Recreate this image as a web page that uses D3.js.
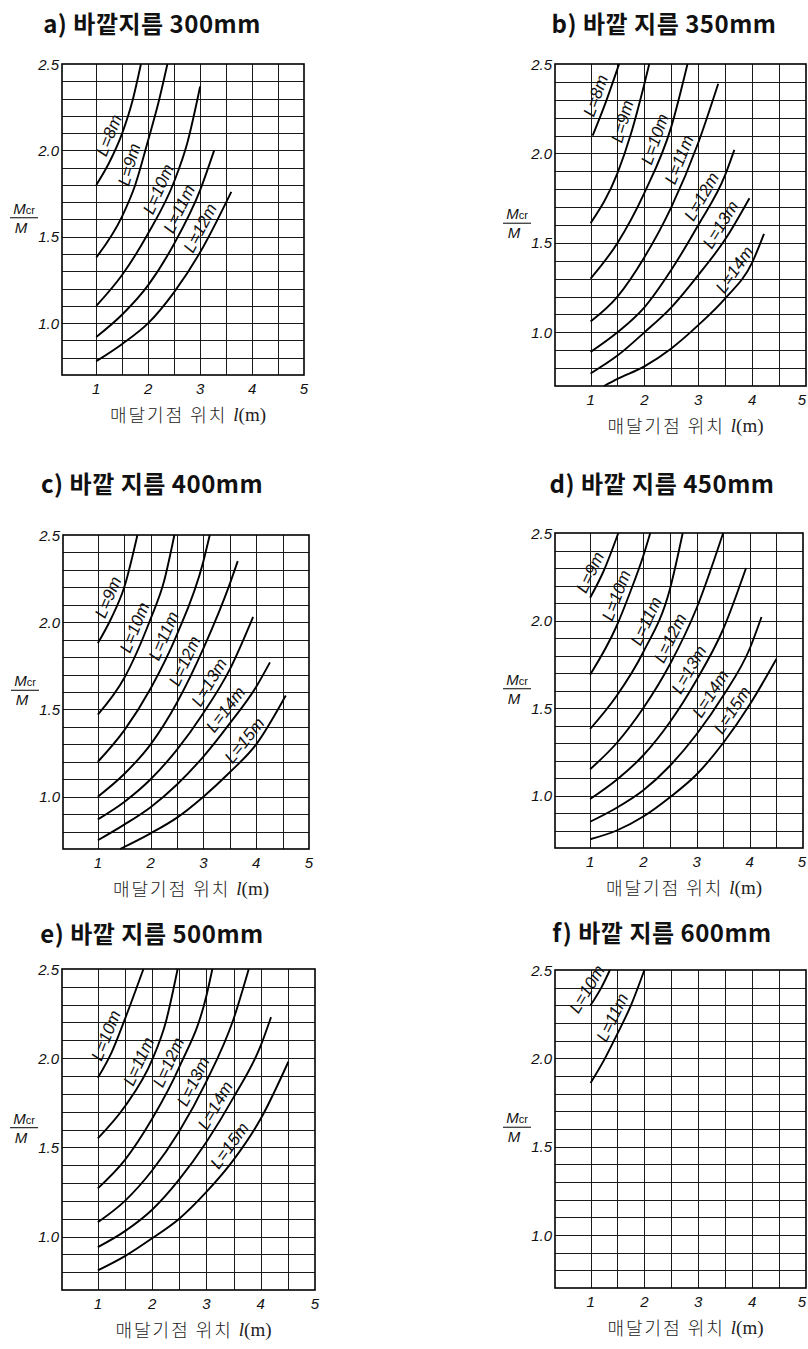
<!DOCTYPE html>
<html>
<head>
<meta charset="utf-8">
<script src="https://cdn.jsdelivr.net/npm/d3@7"></script>
<style>
  body { margin: 0; background: #fff; }
  svg { display: block; }
  .title { font-family: "Noto Sans CJK KR", sans-serif; font-weight: 700; font-size: 24px; fill: #111; letter-spacing: 0.5px; }
  .tick { font-family: "Liberation Sans", sans-serif; font-style: italic; font-size: 15px; fill: #111; }
  .xtitle { font-family: "Noto Sans CJK KR", sans-serif; font-weight: 300; font-size: 18px; fill: #222; letter-spacing: 2px; }
  .serif { font-family: "Liberation Serif", serif; font-size: 19px; letter-spacing: 0; }
  .curve-label { font-family: "Liberation Sans", sans-serif; font-style: italic; font-size: 17px; fill: #111; }
  .ylab { font-family: "Liberation Sans", sans-serif; font-style: italic; font-size: 15px; fill: #111; }
</style>
</head>
<body>
<div id="chart"></div>
<script>
const W = 808, H = 1349;

// plate titles
const titles = [
  'a) 바깥지름 300mm',
  'b) 바깥 지름 350mm',
  'c) 바깥 지름 400mm',
  'd) 바깥 지름 450mm',
  'e) 바깥 지름 500mm',
  'f) 바깥 지름 600mm'
];

const xTicks = [1, 2, 3, 4, 5];
const yTicks = [1.0, 1.5, 2.0, 2.5];
const xDomain = [0.34, 5];
const yDomain = [0.7, 2.5];

// curves, [l (m), Mcr/M]; lab = l where the label sits
const curvesA = [
  { L: 8,  lab: 1.45, pts: [[1, 1.8], [1.25, 1.93], [1.5, 2.1], [1.7, 2.29], [1.86, 2.5]] },
  { L: 9,  lab: 1.85, pts: [[1, 1.38], [1.5, 1.62], [1.75, 1.8], [2, 2.06], [2.2, 2.28], [2.37, 2.5]] },
  { L: 10, lab: 2.4,  pts: [[1, 1.1], [1.5, 1.28], [2, 1.52], [2.5, 1.82], [2.75, 2.04], [3.0, 2.37]] },
  { L: 11, lab: 2.8,  pts: [[1, 0.92], [1.5, 1.05], [2, 1.22], [2.5, 1.46], [3, 1.77], [3.27, 2.0]] },
  { L: 12, lab: 3.2,  pts: [[1, 0.78], [1.5, 0.88], [2, 1.0], [2.5, 1.18], [3, 1.41], [3.6, 1.76]] }
];

const curvesB = [
  { L: 8,  lab: 1.3,  pts: [[1.04, 2.1], [1.25, 2.26], [1.53, 2.5]] },
  { L: 9,  lab: 1.8,  pts: [[1, 1.61], [1.5, 1.89], [1.75, 2.11], [2, 2.39], [2.09, 2.5]] },
  { L: 10, lab: 2.4,  pts: [[1, 1.3], [1.5, 1.5], [2, 1.78], [2.5, 2.15], [2.8, 2.5]] },
  { L: 11, lab: 2.85, pts: [[1, 1.06], [1.5, 1.2], [2, 1.42], [2.5, 1.7], [3, 2.06], [3.37, 2.39]] },
  { L: 12, lab: 3.25, pts: [[1, 0.89], [1.5, 1.0], [2, 1.14], [2.5, 1.35], [3, 1.6], [3.5, 1.88], [3.67, 2.02]] },
  { L: 13, lab: 3.6,  pts: [[1, 0.77], [1.5, 0.87], [2, 1.0], [2.5, 1.14], [3, 1.32], [3.5, 1.52], [3.95, 1.75]] },
  { L: 14, lab: 3.85, pts: [[1.25, 0.7], [1.5, 0.74], [2, 0.81], [2.5, 0.91], [3, 1.04], [3.5, 1.19], [4, 1.39], [4.22, 1.55]] }
];

const curvesC = [
  { L: 9,  lab: 1.4,  pts: [[1, 1.88], [1.25, 2.02], [1.5, 2.2], [1.75, 2.5]] },
  { L: 10, lab: 1.9,  pts: [[1, 1.47], [1.5, 1.68], [2, 2.02], [2.25, 2.23], [2.45, 2.5]] },
  { L: 11, lab: 2.45, pts: [[1, 1.2], [1.5, 1.38], [2, 1.62], [2.5, 1.93], [3, 2.35], [3.12, 2.5]] },
  { L: 12, lab: 2.85, pts: [[1, 1.0], [1.5, 1.13], [2, 1.3], [2.5, 1.54], [3, 1.85], [3.5, 2.22], [3.65, 2.35]] },
  { L: 13, lab: 3.3,  pts: [[1, 0.87], [1.5, 0.97], [2, 1.1], [2.5, 1.27], [3, 1.48], [3.5, 1.73], [3.94, 2.03]] },
  { L: 14, lab: 3.6,  pts: [[1, 0.75], [1.5, 0.84], [2, 0.94], [2.5, 1.07], [3, 1.23], [3.5, 1.42], [4, 1.63], [4.26, 1.77]] },
  { L: 15, lab: 3.95, pts: [[1.42, 0.7], [2, 0.79], [2.5, 0.88], [3, 1.0], [3.5, 1.14], [4, 1.3], [4.56, 1.58]] }
];

const curvesD = [
  { L: 9,  lab: 1.2,  pts: [[1, 2.13], [1.25, 2.28], [1.53, 2.5]] },
  { L: 10, lab: 1.7,  pts: [[1, 1.69], [1.5, 1.97], [1.75, 2.16], [2, 2.37], [2.13, 2.5]] },
  { L: 11, lab: 2.25, pts: [[1, 1.38], [1.5, 1.57], [2, 1.82], [2.5, 2.18], [2.74, 2.5]] },
  { L: 12, lab: 2.7,  pts: [[1, 1.15], [1.5, 1.3], [2, 1.5], [2.5, 1.75], [3, 2.07], [3.5, 2.5]] },
  { L: 13, lab: 3.05, pts: [[1, 0.98], [1.5, 1.09], [2, 1.23], [2.5, 1.42], [3, 1.66], [3.5, 1.95], [3.93, 2.3]] },
  { L: 14, lab: 3.45, pts: [[1, 0.85], [1.5, 0.93], [2, 1.03], [2.5, 1.17], [3, 1.35], [3.5, 1.57], [4, 1.84], [4.22, 2.02]] },
  { L: 15, lab: 3.85, pts: [[1, 0.75], [1.5, 0.8], [2, 0.88], [2.5, 0.99], [3, 1.12], [3.5, 1.3], [4, 1.52], [4.5, 1.78]] }
];

const curvesE = [
  { L: 10, lab: 1.35, pts: [[1, 1.89], [1.25, 2.03], [1.5, 2.22], [1.84, 2.5]] },
  { L: 11, lab: 1.95, pts: [[1, 1.55], [1.5, 1.73], [2, 1.99], [2.25, 2.2], [2.47, 2.5]] },
  { L: 12, lab: 2.5,  pts: [[1, 1.27], [1.5, 1.43], [2, 1.66], [2.5, 1.95], [3, 2.35], [3.11, 2.5]] },
  { L: 13, lab: 2.95, pts: [[1, 1.08], [1.5, 1.2], [2, 1.37], [2.5, 1.59], [3, 1.87], [3.5, 2.22], [3.78, 2.5]] },
  { L: 14, lab: 3.35, pts: [[1, 0.94], [1.5, 1.03], [2, 1.15], [2.5, 1.32], [3, 1.53], [3.5, 1.78], [4, 2.07], [4.19, 2.23]] },
  { L: 15, lab: 3.6,  pts: [[1, 0.81], [1.5, 0.89], [2, 0.99], [2.5, 1.1], [3, 1.25], [3.5, 1.43], [4, 1.66], [4.51, 1.98]] }
];

const curvesF = [
  { L: 10, lab: 1.12, pts: [[1, 2.3], [1.2, 2.4], [1.36, 2.5]] },
  { L: 11, lab: 1.6,  pts: [[1, 1.86], [1.25, 1.99], [1.5, 2.14], [1.75, 2.3], [2, 2.5]] }
];

const allCurves = [curvesA, curvesB, curvesC, curvesD, curvesE, curvesF];

// page layout of each plate (pixels)
const frames = [
  { l: 62,  r: 304, t: 64,  b: 375,  tx: 152, ty: 22 },
  { l: 555, r: 806, t: 64,  b: 386,  tx: 664, ty: 22 },
  { l: 63,  r: 309, t: 535, b: 849,  tx: 152, ty: 482 },
  { l: 555, r: 803, t: 533, b: 848,  tx: 662, ty: 482 },
  { l: 62,  r: 315, t: 969, b: 1290, tx: 152, ty: 932 },
  { l: 555, r: 806, t: 970, b: 1288, tx: 662, ty: 931 }
];

const svg = d3.select('#chart').append('svg')
  .attr('width', W).attr('height', H);

svg.append('rect').attr('width', W).attr('height', H).attr('fill', '#fff');

const hGrid = d3.range(8, 25).map((d) => d / 10);
const vGrid = d3.range(2, 10).map((d) => d / 2);

frames.forEach((f, i) => {
  const x = d3.scaleLinear().domain(xDomain).range([f.l, f.r]);
  const y = d3.scaleLinear().domain(yDomain).range([f.b, f.t]);
  const g = svg.append('g');

  g.append('text')
    .attr('class', 'title')
    .attr('x', f.tx).attr('y', f.ty)
    .attr('text-anchor', 'middle')
    .attr('dominant-baseline', 'central')
    .text(titles[i]);

  // grid
  const grid = g.append('g').attr('shape-rendering', 'crispEdges')
    .attr('stroke', '#1a1a1a').attr('stroke-width', 1);
  grid.selectAll('line.h').data(hGrid).join('line')
    .attr('class', 'h')
    .attr('x1', f.l).attr('x2', f.r)
    .attr('y1', (d) => Math.round(y(d)) + 0.5)
    .attr('y2', (d) => Math.round(y(d)) + 0.5);
  grid.selectAll('line.v').data(vGrid).join('line')
    .attr('class', 'v')
    .attr('y1', f.t).attr('y2', f.b)
    .attr('x1', (d) => Math.round(x(d)) + 0.5)
    .attr('x2', (d) => Math.round(x(d)) + 0.5);

  g.append('rect')
    .attr('x', f.l).attr('y', f.t)
    .attr('width', f.r - f.l).attr('height', f.b - f.t)
    .attr('fill', 'none').attr('stroke', '#000').attr('stroke-width', 1.6);

  // axes labels
  g.selectAll('text.xt').data(xTicks).join('text')
    .attr('class', 'tick xt')
    .attr('x', (d) => Math.min(x(d), W - 6)).attr('y', f.b + 13)
    .attr('text-anchor', 'middle')
    .attr('dominant-baseline', 'central')
    .text((d) => d);
  g.selectAll('text.yt').data(yTicks).join('text')
    .attr('class', 'tick yt')
    .attr('x', f.l - 3).attr('y', (d) => y(d))
    .attr('text-anchor', 'end')
    .attr('dominant-baseline', 'central')
    .text((d) => d.toFixed(1));

  // Mcr / M
  const cx = f.l - 38, cy = y(1.61);
  const num = g.append('text').attr('class', 'ylab')
    .attr('x', cx).attr('y', cy - 4).attr('text-anchor', 'middle');
  num.append('tspan').text('M');
  num.append('tspan').attr('font-size', 11).attr('font-style', 'normal').text('cr');
  g.append('line')
    .attr('x1', cx - 14).attr('x2', cx + 14)
    .attr('y1', cy).attr('y2', cy)
    .attr('stroke', '#000').attr('stroke-width', 1);
  g.append('text').attr('class', 'ylab')
    .attr('x', cx - 3).attr('y', cy + 15).attr('text-anchor', 'middle')
    .text('M');

  const xt = g.append('text').attr('class', 'xtitle')
    .attr('x', (f.l + f.r) / 2 + 5).attr('y', f.b + 39)
    .attr('text-anchor', 'middle')
    .attr('dominant-baseline', 'central');
  xt.append('tspan').text('매달기점 위치 ');
  xt.append('tspan').attr('class', 'serif').attr('font-style', 'italic').text('l');
  xt.append('tspan').attr('class', 'serif').text('(m)');

  // curves
  const line = d3.line()
    .x((d) => x(d[0]))
    .y((d) => y(d[1]))
    .curve(d3.curveMonotoneX);

  allCurves[i].forEach((c) => {
    const path = g.append('path')
      .attr('d', line(c.pts))
      .attr('fill', 'none')
      .attr('stroke', '#000')
      .attr('stroke-width', 1.9);

    // find the point on the path where the label goes
    const node = path.node();
    const len = node.getTotalLength();
    const tx = x(c.lab);
    let best = 0, bestD = Infinity;
    for (let s = 0; s <= len; s += 0.5) {
      const p = node.getPointAtLength(s);
      const dd = Math.abs(p.x - tx);
      if (dd < bestD) { bestD = dd; best = s; }
    }
    const p = node.getPointAtLength(best);
    const p0 = node.getPointAtLength(Math.max(0, best - 10));
    const p1 = node.getPointAtLength(Math.min(len, best + 10));
    const ang = Math.atan2(p1.y - p0.y, p1.x - p0.x) * 180 / Math.PI;

    g.append('text')
      .attr('class', 'curve-label')
      .attr('transform', `translate(${p.x},${p.y}) rotate(${ang})`)
      .attr('text-anchor', 'middle')
      .attr('dy', -6)
      .text(`L=${c.L}m`);
  });
});
</script>
</body>
</html>
